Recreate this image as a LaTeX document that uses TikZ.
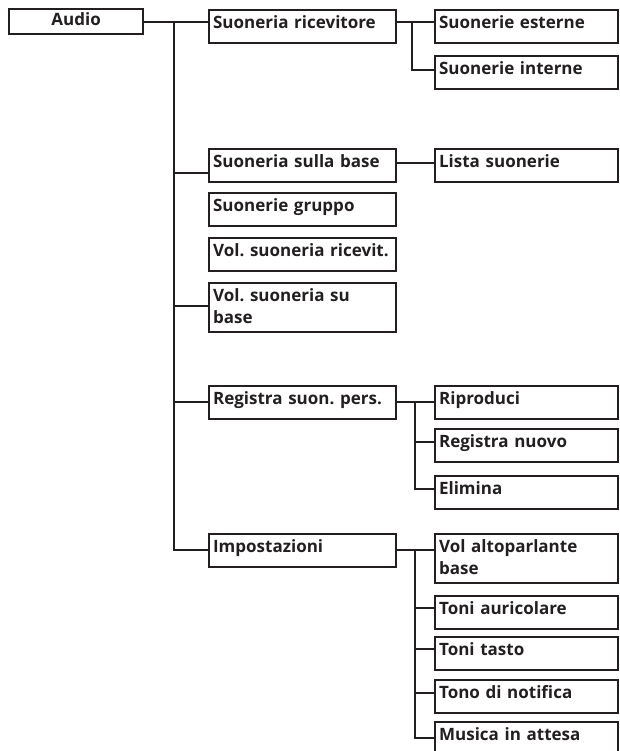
\documentclass[tikz,border=0pt]{standalone}
\usepackage{fontspec}
\setmainfont{Open Sans}
\usepackage{tikz}
\definecolor{ink}{HTML}{231F20}
\tikzstyle{menu} = [rectangle,
anchor=north west,
draw=ink,
line width=2.2pt,
inner xsep=4pt,
inner ysep=3pt,
text width=179pt,
align=left,
text height=15pt,
text depth=12pt,
text=ink,
font=\fontsize{17}{22}\selectfont\bfseries\frenchspacing]
\tikzstyle{sub} = [menu, text width=175pt]
\tikzstyle{top} = [menu, text width=126pt, align=center, text height=13pt, text depth=6pt]
\tikzstyle{link} = [draw=ink, line width=2.2pt]

\begin{document}
\begin{tikzpicture}[x=1pt, y=-1pt]
\useasboundingbox (0,0) rectangle (620,751);
\node (audio) [top] at (8,8) {Audio};
\node (ricev) [menu] at (208,9) {Suoneria ricevitore};
\node (sbase) [menu] at (208,148) {Suoneria sulla base};
\node (gruppo) [menu] at (208,192) {Suonerie gruppo};
\node (volric) [menu] at (208,237) {Vol. suoneria ricevit.};
\node (volbase) [menu, text depth=28pt] at (208,282) {Vol. suoneria su\\base};
\node (regis) [menu] at (208,385) {Registra suon. pers.};
\node (impost) [menu] at (208,533) {Impostazioni};
\node (esterne) [sub] at (434,9) {Suonerie esterne};
\node (interne) [sub] at (434,55) {Suonerie interne};
\node (lista) [sub] at (434,148) {Lista suonerie};
\node (ripro) [sub] at (434,385) {Riproduci};
\node (nuovo) [sub] at (434,428) {Registra nuovo};
\node (elimina) [sub] at (434,475) {Elimina};
\node (altop) [sub, text depth=28pt] at (434,533) {Vol altoparlante\\base};
\node (auric) [sub] at (434,595) {Toni auricolare};
\node (tasto) [sub] at (434,636) {Toni tasto};
\node (notif) [sub] at (434,679) {Tono di notifica};
\node (attesa) [sub] at (434,721) {Musica in attesa};
% trunk
\coordinate (t1) at (174,22);
\coordinate (t2) at (174,173);
\coordinate (t3) at (174,306);
\coordinate (t4) at (174,402);
\coordinate (t5) at (174,550);
\draw [link] (audio.east |- t1) -- (ricev.west |- t1);
\draw [link] (t1) -- (t5) -- (impost.west |- t5);
\draw [link] (t2) -- (sbase.west |- t2);
\draw [link] (t3) -- (volbase.west |- t3);
\draw [link] (t4) -- (regis.west |- t4);
% second level
\coordinate (s1) at (412,22);
\coordinate (s2) at (412,70);
\draw [link] (ricev.east |- s1) -- (esterne.west |- s1);
\draw [link] (s1) -- (s2) -- (interne.west |- s2);
\coordinate (l1) at (414,163);
\draw [link] (sbase.east |- l1) -- (lista.west |- l1);
\coordinate (r1) at (415,402);
\coordinate (r2) at (415,442);
\coordinate (r3) at (415,489);
\draw [link] (regis.east |- r1) -- (ripro.west |- r1);
\draw [link] (r1) -- (r3) -- (elimina.west |- r3);
\draw [link] (r2) -- (nuovo.west |- r2);
\coordinate (p1) at (415,550);
\coordinate (p2) at (415,608);
\coordinate (p3) at (415,649);
\coordinate (p4) at (415,693);
\coordinate (p5) at (415,738);
\draw [link] (impost.east |- p1) -- (altop.west |- p1);
\draw [link] (p1) -- (p5) -- (attesa.west |- p5);
\draw [link] (p2) -- (auric.west |- p2);
\draw [link] (p3) -- (tasto.west |- p3);
\draw [link] (p4) -- (notif.west |- p4);
\end{tikzpicture}
\end{document}
